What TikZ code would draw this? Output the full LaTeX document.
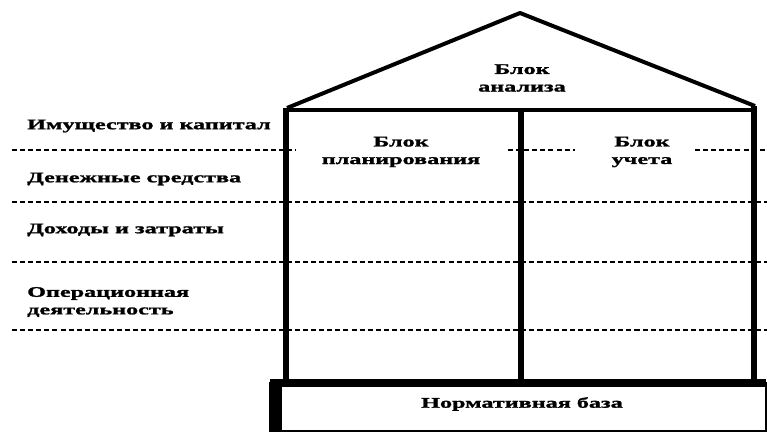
\documentclass[tikz,border=0pt]{standalone}
\usepackage{fontspec}
\setmainfont{Liberation Serif}[FakeStretch=1.65, BoldFeatures={FakeBold=1.5}]

\tikzset{
	wall/.style={line width=5pt},
	roof/.style={line width=3.4pt, line join=round},
	row/.style={line width=2.5pt, dash pattern=on 4.3pt off 2.6pt},
	lbl/.style={font=\fontsize{12.5}{15}\selectfont\bfseries, inner sep=0pt, align=center},
	side/.style={lbl, anchor=west, align=left},
}

\begin{document}
\begin{tikzpicture}[x=0.03cm, y=-0.03cm]
	\useasboundingbox (0,0) rectangle (767,432);

	% dotted rows
	\draw[row] (12,150) -- (296,150);
	\draw[row] (508,150) -- (575,150);
	\draw[row] (695,150) -- (767,150);
	\foreach \y in {202,262,330}
		\draw[row] (12,\y) -- (767,\y);

	% roof and walls
	\draw[roof] (287,108) -- (520,13) -- (755,106);
	\draw[line width=3pt] (284,110) -- (757,110);
	\draw[wall] (286,108) -- (286,381);
	\draw[wall] (521,108) -- (521,381);
	\draw[wall] (754,106) -- (754,381);

	% base
	\draw[line width=1.2pt] (270,383) rectangle (766,431);
	\draw[line width=6pt] (270,383) -- (766,383);
	\draw[line width=9.4pt] (276,380) -- (276,432);

	% labels
	\node[side] (imush) at (27,126) {Имущество и капитал};
	\node[side] (den) at (27,179) {Денежные средства};
	\node[side] (dokh) at (27,230) {Доходы и затраты};
	\node[side] (oper) at (27,302) {Операционная\\деятельность};

	\node[lbl] (analiz) at (522,78) {Блок\\анализа};
	\node[lbl] (plan) at (401,152) {Блок\\планирования};
	\node[lbl] (uchet) at (642,152) {Блок\\учета};
	\node[lbl] (norm) at (522,404) {Нормативная база};
\end{tikzpicture}
\end{document}
